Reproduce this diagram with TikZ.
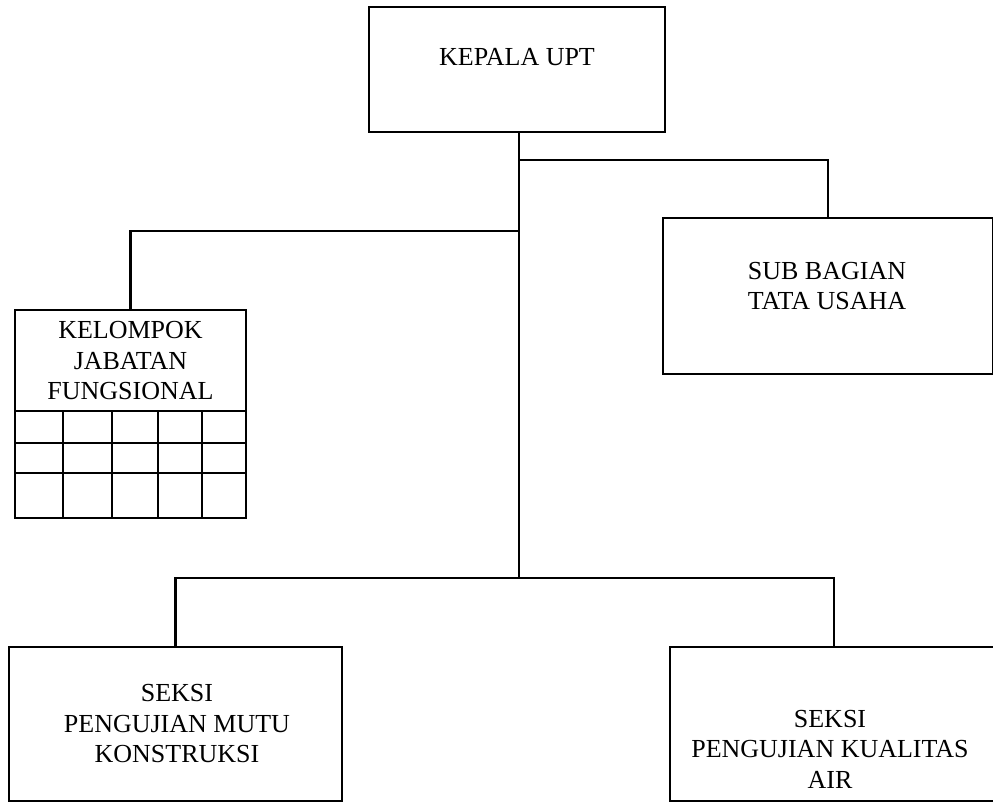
\documentclass[tikz,border=0pt]{standalone}
\usepackage{fontspec}
\setmainfont{Liberation Serif}
\begin{document}
\begin{tikzpicture}[x=1pt,y=-1pt,
  box/.style={draw, line width=2.3pt, rectangle, inner sep=0pt},
  txt/.style={align=center, inner sep=0pt, font=\fontsize{26}{30.5}\selectfont},
  grid/.style={line width=2.3pt},
  conn/.style={line width=2.3pt, line cap=rect}]
\useasboundingbox (0,0) rectangle (993,803);
\clip (0,0) rectangle (993,803);
\fill[white] (0,0) rectangle (993,803);
% boxes
\node[box, minimum width=296pt, minimum height=125pt] (kepala) at (517,69.5) {};
\node[txt] (kepalaT) at (517,57) {KEPALA UPT};
\node[box, minimum width=330pt, minimum height=156pt] (sub) at (828,296) {};
\node[txt] (subT) at (827,286) {SUB BAGIAN\\TATA USAHA};
\node[box, minimum width=231pt, minimum height=101pt] (kel) at (130.5,360.5) {};
\node[txt] (kelT) at (130.5,361) {KELOMPOK\\JABATAN\\FUNGSIONAL};
\node[box, minimum width=333pt, minimum height=154pt] (seksiA) at (175.5,724) {};
\node[txt] (seksiAT) at (177,724) {SEKSI\\PENGUJIAN MUTU\\KONSTRUKSI};
\node[box, minimum width=328pt, minimum height=154pt] (seksiB) at (834,724) {};
\node[txt] (seksiBT) at (830,749) {SEKSI\\PENGUJIAN KUALITAS\\AIR};
% grid under KELOMPOK
\draw[grid] (15,411) rectangle (246,518);
\draw[grid] (15,443) -- (246,443) (15,473) -- (246,473);
\foreach \gx in {63,112,158,202} \draw[grid] (\gx,411) -- (\gx,518);
% connectors
\coordinate (hub) at (519,578);
\coordinate (jr) at (519,160);
\coordinate (jl) at (519,231);
\draw[conn] (kepala.south -| hub) -- (hub);
\draw[conn] (jr) -| (sub.north);
\draw[conn] (jl) -| (kel.north);
\draw[conn] (seksiA.north) |- (hub) -| (seksiB.north);
\end{tikzpicture}
\end{document}
